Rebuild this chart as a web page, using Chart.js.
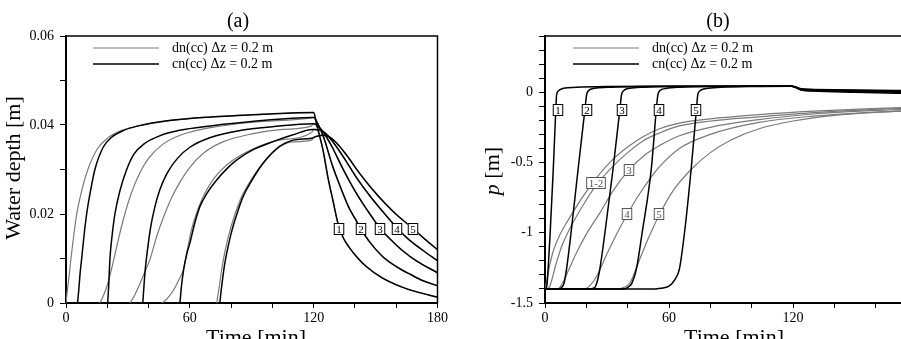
<!DOCTYPE html>
<html>
<head>
<meta charset="utf-8">
<script src="https://cdn.jsdelivr.net/npm/chart.js@4.4.1/dist/chart.umd.min.js"></script>
<style>
  html, body { margin: 0; padding: 0; background: #fff; overflow: hidden; width: 901px; height: 339px; }
  .wrap { position: absolute; top: 0; height: 339px; }
  #wrapA { left: 0; width: 450px; }
  #wrapB { left: 450px; width: 480px; }
  canvas { display: block; }
</style>
</head>
<body>
<div class="wrap" id="wrapA"><canvas id="chartA" width="450" height="339"></canvas></div>
<div class="wrap" id="wrapB"><canvas id="chartB" width="480" height="339"></canvas></div>
<script>
// ---- (a) water depth [m] vs time [min] ----
// rising limbs, dn(cc) (gray) and cn(cc) (black), one per location 1..5
const depthDn1 = [[0,0],[0.7,0.003],[1.5,0.006],[2.4,0.01],[3.7,0.015],[5.2,0.02],[7.5,0.025],[10.6,0.03],[15,0.0345],[20,0.037],[27,0.0388],[35,0.0398],[50,0.041],[70,0.0418],[95,0.0424],[119,0.0428]];
const depthCn1 = [[5.6,0],[6.2,0.003],[6.9,0.007],[7.6,0.01],[8.7,0.015],[10,0.02],[11.8,0.025],[14,0.03],[18,0.035],[22,0.0372],[28,0.0388],[35,0.0398],[50,0.041],[70,0.0418],[95,0.0424],[119.5,0.0428]];
const depthDn2 = [[16.4,0],[18,0.0015],[20,0.004],[22,0.0075],[24,0.0115],[26,0.0155],[28.5,0.02],[31.5,0.0245],[35,0.0285],[40,0.0325],[47,0.0357],[56,0.0378],[70,0.0394],[90,0.0406],[119,0.0416]];
const depthCn2 = [[20.2,0],[20.7,0.004],[21.3,0.01],[22.3,0.015],[23.7,0.02],[26,0.025],[29.4,0.03],[33,0.0335],[38,0.0358],[45,0.0375],[55,0.0388],[70,0.0398],[90,0.0408],[119.5,0.0417]];
const depthDn3 = [[31,0],[33,0.0015],[35,0.0035],[37.5,0.0062],[40.6,0.0097],[43.9,0.0149],[47,0.019],[51,0.0235],[55,0.027],[60,0.0305],[67,0.0338],[76,0.0362],[90,0.038],[105,0.039],[119,0.0398]];
const depthCn3 = [[37.2,0],[37.8,0.004],[38.5,0.008],[39.5,0.012],[41,0.017],[43,0.0215],[45.5,0.0255],[49,0.0292],[54,0.0325],[60,0.035],[70,0.0372],[85,0.0388],[100,0.0396],[119.5,0.0403]];
const depthDn4 = [[46.6,0],[49,0.001],[52,0.0028],[55,0.0055],[56.8,0.0074],[58.8,0.012],[60.8,0.0165],[63.5,0.0205],[67.2,0.0246],[72,0.0282],[80,0.0318],[90,0.0345],[102,0.0365],[119,0.0383]];
const depthCn4 = [[55.2,0],[56,0.004],[57,0.0075],[58.5,0.011],[60,0.0134],[62.3,0.0178],[64.8,0.0216],[68.5,0.0248],[72.9,0.0276],[78,0.0302],[82.6,0.0321],[90,0.0343],[100,0.0362],[110,0.0378],[119.5,0.039]];
const depthDn5 = [[73,0],[74.2,0.0035],[75.6,0.008],[77.3,0.0122],[79.4,0.0162],[82,0.0201],[85,0.0238],[89.3,0.0274],[95,0.0312],[103,0.035],[110,0.0362],[119,0.0366]];
const depthCn5 = [[74.5,0],[75.5,0.004],[76.8,0.0085],[78.5,0.0126],[80.5,0.0165],[83,0.0203],[85.8,0.0239],[90,0.0275],[95.5,0.0314],[103.5,0.0352],[110,0.0366],[119.5,0.0371]];
// recession after rain stops (t > 120), shared by both schemes
const depthRec1 = [[120,0.0428],[121.5,0.040],[124.5,0.0344],[127,0.028],[129.3,0.0231],[132,0.0175],[134.5,0.0145],[137.4,0.0124],[141,0.0103],[145.5,0.0082],[153,0.0057],[161.6,0.0038],[170,0.0025],[180,0.0013]];
const depthRec2 = [[120,0.0417],[122,0.0403],[125,0.037],[129,0.031],[133,0.026],[137,0.0215],[140,0.019],[142.7,0.0168],[147,0.0138],[153.5,0.0104],[160,0.0082],[167,0.0064],[173,0.005],[180,0.0039]];
const depthRec3 = [[120,0.0403],[122,0.0398],[125,0.0382],[129,0.035],[134,0.0303],[139,0.026],[144,0.0222],[148,0.0195],[152.1,0.0168],[157,0.0144],[163,0.0118],[170,0.0094],[180,0.0068]];
const depthRec4 = [[120,0.039],[123,0.0389],[126,0.038],[130,0.0358],[135,0.0324],[141,0.028],[147,0.0242],[153,0.0208],[160.5,0.0168],[166,0.0143],[173,0.0118],[180,0.0095]];
const depthRec5 = [[120,0.0372],[124,0.0377],[127,0.0375],[131,0.036],[136,0.0332],[142,0.0293],[148,0.0258],[155,0.0222],[161,0.0195],[168,0.0168],[174,0.0143],[180,0.012]];
const depthLabelText = ['1','2','3','4','5'];
const depthLabelTime = [132.4, 142.7, 152.1, 160.5, 168];
const depthLabelValue = [0.0167, 0.0167, 0.0167, 0.0167, 0.0167];
const depthTicks = [0, 0.02, 0.04, 0.06];

// ---- (b) pressure head p [m] vs time [min] ----
const presCn1 = [[0,-1.4],[0.8,-1.385],[1.5,-1.26],[2.5,-1.0],[4,-0.55],[5.3,-0.1],[5.6,-0.02],[6.5,0.01],[9,0.028],[15,0.035],[30,0.04],[60,0.042],[90,0.043],[119,0.044],[121,0.035],[124,0.016],[130,0.008],[150,0],[180,-0.01]];
const presCn2 = [[0,-1.4],[6,-1.4],[8,-1.39],[9.2,-1.36],[10.4,-1.26],[12.6,-1.0],[16,-0.55],[19.5,-0.1],[20.1,-0.02],[21,0.01],[24,0.028],[30,0.035],[45,0.04],[70,0.042],[95,0.043],[119,0.044],[121,0.036],[124,0.018],[130,0.011],[150,0.005],[180,-0.003]];
const presCn3 = [[0,-1.4],[21,-1.4],[24,-1.39],[25,-1.36],[26.5,-1.26],[29,-1.0],[32.9,-0.55],[36.4,-0.1],[37,-0.02],[38,0.01],[41,0.028],[48,0.036],[70,0.041],[95,0.043],[119,0.044],[121,0.037],[124,0.02],[130,0.014],[150,0.009],[180,0.003]];
const presCn4 = [[0,-1.4],[37,-1.4],[40,-1.39],[42,-1.36],[44.2,-1.26],[47,-1.0],[51.4,-0.55],[54,-0.1],[54.6,-0.02],[55.5,0.01],[58.5,0.027],[65,0.036],[85,0.041],[105,0.043],[119,0.044],[121,0.038],[124,0.022],[130,0.017],[150,0.012],[180,0.008]];
const presCn5 = [[0,-1.4],[53,-1.4],[56,-1.395],[60,-1.38],[63,-1.33],[65,-1.26],[67.5,-1.0],[70.7,-0.55],[73.4,-0.1],[73.9,-0.02],[75,0.01],[78,0.026],[85,0.035],[100,0.041],[119,0.043],[121,0.039],[124,0.024],[130,0.02],[150,0.015],[180,0.012]];
const presDn1 = [[0,-1.4],[0.6,-1.36],[2,-1.25],[4,-1.13],[7,-1.02],[10,-0.94],[13.7,-0.85],[18,-0.75],[24.9,-0.61],[32,-0.49],[40,-0.39],[47,-0.32],[55.4,-0.26],[65,-0.22],[80,-0.19],[103.6,-0.16],[130,-0.135],[155,-0.118],[180,-0.105]];
const presDn2 = [[0,-1.4],[2,-1.39],[3,-1.35],[5,-1.24],[8,-1.1],[11,-1.0],[15,-0.89],[19,-0.79],[24.9,-0.66],[32,-0.54],[40,-0.43],[47,-0.35],[55.4,-0.29],[65,-0.24],[80,-0.205],[103.6,-0.175],[130,-0.145],[155,-0.125],[180,-0.112]];
const presDn3 = [[0,-1.4],[6,-1.4],[8,-1.37],[11,-1.28],[15,-1.15],[20,-1.01],[26.5,-0.86],[33,-0.7],[40.2,-0.56],[48,-0.45],[55.4,-0.38],[65,-0.31],[80,-0.25],[103.6,-0.195],[130,-0.155],[155,-0.133],[180,-0.12]];
const presDn4 = [[0,-1.4],[19,-1.4],[21.5,-1.38],[25,-1.31],[30,-1.15],[35,-1.0],[40.2,-0.86],[45,-0.74],[50.6,-0.62],[55.4,-0.53],[65,-0.4],[80,-0.3],[103.6,-0.215],[130,-0.17],[155,-0.145],[180,-0.13]];
const presDn5 = [[0,-1.4],[35,-1.4],[38,-1.39],[41,-1.36],[45,-1.22],[50,-1.04],[55.4,-0.87],[62,-0.7],[70.7,-0.55],[80,-0.43],[90,-0.34],[103.6,-0.26],[120,-0.205],[140,-0.165],[160,-0.143],[180,-0.13]];
const presCnLabelText = ['1','2','3','4','5'];
const presCnLabelTime = [6.4, 20.4, 37.3, 55.4, 73.1];
const presCnLabelValue = [-0.13, -0.13, -0.13, -0.13, -0.13];
const presDnLabelText = ['1-2','3','4','5'];
const presDnLabelTime = [24.9, 40.6, 39.9, 55.1];
const presDnLabelValue = [-0.647, -0.553, -0.867, -0.867];
const presTicks = [-1.5, -1, -0.5, 0];

const timeTicks = [0, 60, 120, 180];
const legendText = ['dn(cc) \u0394z = 0.2 m', 'cn(cc) \u0394z = 0.2 m'];

const SERIF = '"Liberation Serif", "Times New Roman", serif';
const GRAY = '#7a7a7a';

function curve(points, color, width)
{
  return { data: points.map(p => ({ x: p[0], y: p[1] })), borderColor: color, borderWidth: width,
           pointRadius: 0, cubicInterpolationMode: 'monotone', fill: false };
}

function labels(text, time, value, color)
{
  return text.map((t, i) => ({ text: t, t: time[i], v: value[i], color }));
}

// frame, titles, legend and the small numbered boxes
const extras = {
  id: 'extras',
  afterDraw(chart, args, o)
  {
    const { ctx, chartArea: a, scales: { x, y } } = chart;
    ctx.save();
    ctx.strokeStyle = '#000';
    ctx.lineWidth = 1.5;
    ctx.beginPath();
    ctx.moveTo(a.left, a.top); ctx.lineTo(a.right, a.top); ctx.lineTo(a.right, a.bottom);
    ctx.stroke();

    ctx.fillStyle = '#000';
    ctx.textAlign = 'center';
    ctx.textBaseline = 'middle';
    ctx.font = '20px ' + SERIF;
    ctx.fillText(o.title, o.titleX, 22);
    ctx.font = '22px ' + SERIF;
    ctx.fillText('Time [min]', o.xTitleX, 338);

    // y title, rotated; parts may be italic
    ctx.save();
    ctx.translate(o.yTitleX, o.yTitleY);
    ctx.rotate(-Math.PI / 2);
    ctx.textAlign = 'left';
    let total = 0;
    o.yTitle.forEach(p => { ctx.font = (p.italic ? 'italic ' : '') + '22px ' + SERIF; total += ctx.measureText(p.text).width; });
    let cx = -total / 2;
    o.yTitle.forEach(p => {
      ctx.font = (p.italic ? 'italic ' : '') + '22px ' + SERIF;
      ctx.fillText(p.text, cx, 0);
      cx += ctx.measureText(p.text).width;
    });
    ctx.restore();

    // legend
    ctx.font = '14px ' + SERIF;
    ctx.textAlign = 'left';
    [GRAY, '#000'].forEach((c, i) => {
      const ly = 48 + i * 16;
      ctx.strokeStyle = c;
      ctx.lineWidth = i ? 1.5 : 1.2;
      ctx.beginPath(); ctx.moveTo(o.legendX, ly); ctx.lineTo(o.legendX + 66, ly); ctx.stroke();
      ctx.fillStyle = '#000';
      ctx.fillText(legendText[i], o.legendX + 79, ly);
    });

    // numbered boxes
    ctx.font = '11px ' + SERIF;
    ctx.textAlign = 'center';
    o.labels.forEach(l => {
      const px = Math.round(x.getPixelForValue(l.t)), py = Math.round(y.getPixelForValue(l.v));
      const w = Math.max(10, ctx.measureText(l.text).width + 5), h = 12;
      ctx.fillStyle = '#fff';
      ctx.fillRect(px - w / 2, py - h / 2, w, h);
      ctx.strokeStyle = l.color;
      ctx.lineWidth = 1;
      ctx.strokeRect(px - w / 2 + 0.5, py - h / 2 + 0.5, w - 1, h - 1);
      ctx.fillStyle = l.color;
      ctx.fillText(l.text, px, py + 1);
    });
    ctx.restore();
  }
};

function axes(yMin, yMax, yStep, yLabels, yWidth, yFormat)
{
  const tickFont = { family: SERIF, size: 14 };
  return {
    x: {
      type: 'linear', min: 0, max: 180,
      ticks: { stepSize: 20, autoSkip: false, maxRotation: 0, color: '#000', font: tickFont, padding: 2,
               callback: v => timeTicks.includes(v) ? String(v) : '' },
      grid: { drawOnChartArea: false, drawTicks: true, tickLength: 5, color: '#000', lineWidth: 1 },
      border: { display: true, color: '#000', width: 2 },
      afterFit: s => { s.height = 36; }
    },
    y: {
      type: 'linear', min: yMin, max: yMax,
      ticks: { stepSize: yStep, autoSkip: false, color: '#000', font: tickFont, padding: 6,
               callback: v => { const hit = yLabels.find(t => Math.abs(t - v) < 1e-9); return hit === undefined ? '' : yFormat(hit); } },
      grid: { drawOnChartArea: false, drawTicks: true, tickLength: 6, color: '#000', lineWidth: 1 },
      border: { display: true, color: '#000', width: 2 },
      afterFit: s => { s.width = yWidth; }
    }
  };
}

const depthBlack = [[depthCn1, depthRec1], [depthCn2, depthRec2], [depthCn3, depthRec3], [depthCn4, depthRec4], [depthCn5, depthRec5]];
const depthGray  = [[depthDn1, depthRec1], [depthDn2, depthRec2], [depthDn3, depthRec3], [depthDn4, depthRec4], [depthDn5, depthRec5]];

new Chart(document.getElementById('chartA'), {
  type: 'line',
  data: { datasets: [
    ...depthBlack.map(c => curve(c[0].concat(c[1]), '#000', 1.5)),
    ...depthGray.map(c => curve(c[0].concat(c[1]), GRAY, 1.2))
  ] },
  options: {
    responsive: false, animation: false, devicePixelRatio: 1,
    layout: { padding: { top: 36, right: 12, left: 0, bottom: 0 } },
    plugins: {
      legend: { display: false }, tooltip: { enabled: false },
      extras: { title: '(a)', titleX: 238, xTitleX: 256, yTitleX: 14, yTitleY: 168,
                yTitle: [{ text: 'Water depth [m]' }], legendX: 93,
                labels: labels(depthLabelText, depthLabelTime, depthLabelValue, '#000') }
    },
    scales: axes(0, 0.06, 0.01, depthTicks, 66, v => v === 0 ? '0' : v.toFixed(2))
  },
  plugins: [extras]
});

const presBlack = [presCn1, presCn2, presCn3, presCn4, presCn5];
const presGray  = [presDn1, presDn2, presDn3, presDn4, presDn5];

new Chart(document.getElementById('chartB'), {
  type: 'line',
  data: { datasets: [
    ...presBlack.map(c => curve(c, '#000', 1.5)),
    ...presGray.map(c => curve(c, GRAY, 1.2))
  ] },
  options: {
    responsive: false, animation: false, devicePixelRatio: 1,
    layout: { padding: { top: 36, right: 13, left: 0, bottom: 0 } },
    plugins: {
      legend: { display: false }, tooltip: { enabled: false },
      extras: { title: '(b)', titleX: 268, xTitleX: 284, yTitleX: 43, yTitleY: 171,
                yTitle: [{ text: 'p', italic: true }, { text: ' [m]' }], legendX: 123,
                labels: labels(presCnLabelText, presCnLabelTime, presCnLabelValue, '#000')
                          .concat(labels(presDnLabelText, presDnLabelTime, presDnLabelValue, '#555')) }
    },
    scales: axes(-1.5, 0.4, 0.1, presTicks, 95, v => String(v))
  },
  plugins: [extras]
});
</script>
</body>
</html>
